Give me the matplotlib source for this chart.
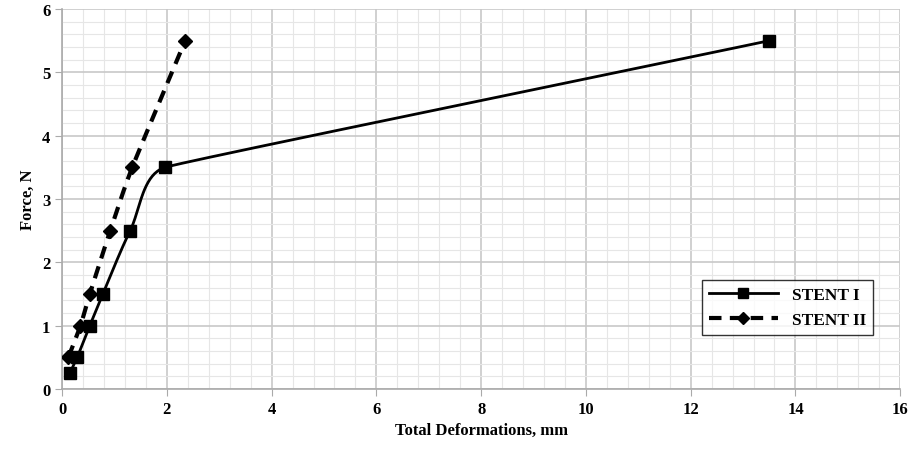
import numpy as np
import matplotlib.pyplot as plt
from matplotlib.ticker import MultipleLocator

plt.rcParams['font.family'] = ['Liberation Serif', 'DejaVu Serif']
plt.rcParams['font.weight'] = 'bold'

# STENT I: deformation [mm], force [N]
def1 = [0.15, 0.29, 0.53, 0.78, 1.30, 1.97, 13.5]
force1 = [0.25, 0.5, 1.0, 1.5, 2.5, 3.5, 5.5]
# STENT II
def2 = [0.12, 0.35, 0.53, 0.92, 1.34, 2.35]
force2 = [0.5, 1.0, 1.5, 2.5, 3.5, 5.5]

XSCALE = 52.4 / 63.3  # px per x-unit / px per y-unit, so smoothing works in screen space


def smooth(xs, ys, n=40):
    # bezier through points, tangent from neighbours, handle length from shorter adjacent segment
    p = np.column_stack([np.array(xs) * XSCALE, ys]).astype(float)
    m = len(p)
    seglen = np.linalg.norm(np.diff(p, axis=0), axis=1)
    tan = []
    for i in range(m):
        d = p[min(i + 1, m - 1)] - p[max(i - 1, 0)]
        tan.append(d / np.linalg.norm(d))
    out = []
    t = np.linspace(0, 1, n)[:, None]
    for i in range(m - 1):
        prev_len = seglen[i - 1] if i > 0 else seglen[i]
        next_len = seglen[i + 1] if i + 1 < m - 1 else seglen[i]
        L0 = min(seglen[i], prev_len) / 3
        L1 = min(seglen[i], next_len) / 3
        b0, b3 = p[i], p[i + 1]
        b1 = b0 + tan[i] * L0
        b2 = b3 - tan[i + 1] * L1
        seg = ((1 - t) ** 3) * b0 + 3 * ((1 - t) ** 2) * t * b1 + 3 * (1 - t) * t ** 2 * b2 + t ** 3 * b3
        out.append(seg)
    c = np.vstack(out)
    return c[:, 0] / XSCALE, c[:, 1]


fig, ax = plt.subplots(figsize=(9.13, 4.56), dpi=100)
fig.subplots_adjust(left=0.068, right=0.986, top=0.978, bottom=0.145)

sx, sy = smooth(def1, force1)
ax.plot(sx, sy, color='black', lw=2, zorder=3)
ax.plot(def1, force1, ls='none', marker='s', ms=9, color='black', zorder=4)
ax.plot([], [], color='black', lw=2, marker='s', ms=7, label='STENT I')

sx2, sy2 = smooth(def2, force2)
ax.plot(sx2, sy2, color='black', lw=3, ls=(0, (3, 2)), zorder=3)
ax.plot(def2, force2, ls='none', marker='D', ms=7, color='black', zorder=4)
ax.plot([], [], color='black', lw=3, ls=(0, (3, 2)), marker='D', ms=6, label='STENT II')

ax.set_xlim(0, 16)
ax.set_ylim(0, 6)
ax.xaxis.set_major_locator(MultipleLocator(2))
ax.xaxis.set_minor_locator(MultipleLocator(0.4))
ax.yaxis.set_major_locator(MultipleLocator(1))
ax.yaxis.set_minor_locator(MultipleLocator(0.2))
ax.grid(which='major', color='#c8c8c8', lw=1.2)
ax.grid(which='minor', color='#e6e6e6', lw=0.8)
ax.set_axisbelow(True)
for s in ['top', 'right']:
    ax.spines[s].set_visible(False)
for s in ['left', 'bottom']:
    ax.spines[s].set_color('#aaaaaa')
    ax.spines[s].set_linewidth(1.2)
ax.tick_params(which='major', length=5, color='#aaaaaa', labelsize=12)
ax.tick_params(which='minor', length=0)

ax.set_xlabel('Total Deformations, mm', fontsize=12, fontweight='bold')
ax.set_ylabel('Force, N', fontsize=12, fontweight='bold')

leg = ax.legend(loc='lower right', bbox_to_anchor=(0.978, 0.12), fontsize=12.5,
                frameon=True, fancybox=False, edgecolor='black', handlelength=4)
leg.get_frame().set_linewidth(1.0)

fig.savefig('out.png')
